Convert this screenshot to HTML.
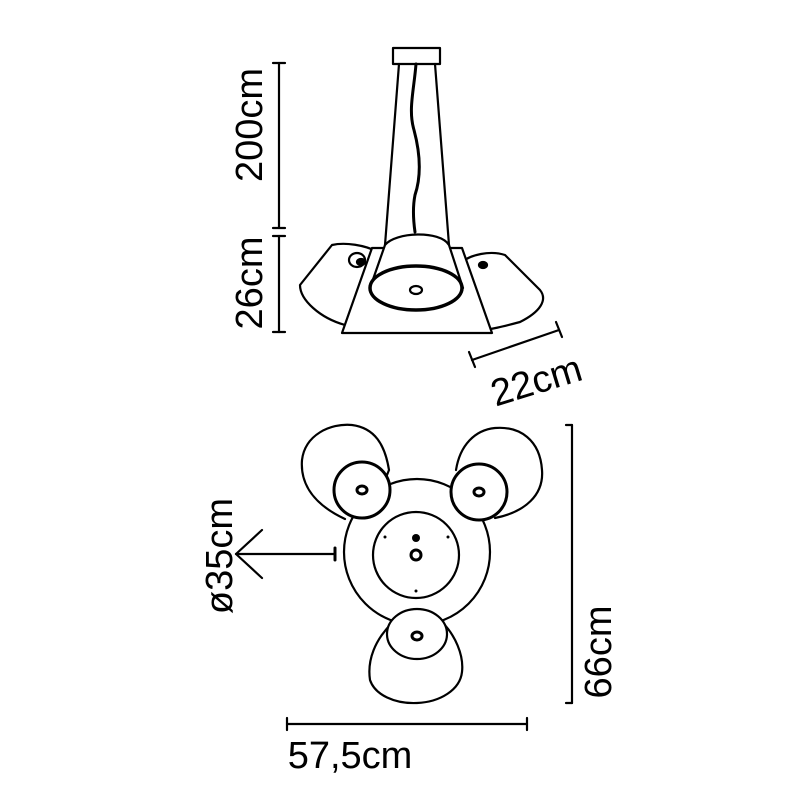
<!DOCTYPE html>
<html><head><style>
html,body{margin:0;padding:0;background:#fff;}
svg{display:block;}
text{font-family:"Liberation Sans",Arial,sans-serif;font-size:38px;fill:#000;}
</style></head><body>
<svg width="800" height="800" viewBox="0 0 800 800" xmlns="http://www.w3.org/2000/svg">
<g fill="none" stroke="#000" stroke-width="2.2" stroke-linejoin="round" stroke-linecap="round">
<!-- side view -->
<rect x="393" y="48" width="47" height="16"/>
<line x1="399" y1="64" x2="385" y2="245"/>
<line x1="435" y1="64" x2="449" y2="245"/>
<path d="M416 64 C414 90 408 110 414 130 C422 160 420 180 415 195 C412 210 414 225 415 232" stroke-width="3"/>
<!-- left shade -->
<path d="M378 252 C365 245 345 242 332 245 L300 285 C300 300 320 318 345 325 L372 252"/>
<ellipse cx="357" cy="260" rx="8" ry="7" fill="none"/>
<ellipse cx="361" cy="262" rx="4" ry="3" fill="#000"/>
<!-- right shade -->
<path d="M462 262 C470 255 490 250 505 255 L540 290 C548 300 540 312 520 322 C505 326 490 330 475 331"/>
<ellipse cx="483" cy="265" rx="4" ry="3" fill="#000"/>
<!-- trapezoid base -->
<path d="M372 248 L462 248 L492 333 L342 333 Z" fill="#fff"/>
<!-- center shade -->
<path d="M370 288 L385 245 C395 232 440 230 449 245 L463 288" fill="#fff"/>
<ellipse cx="416" cy="288" rx="46" ry="22" stroke-width="3.5" fill="#fff"/>
<ellipse cx="416" cy="290" rx="6" ry="4"/>
<!-- dims side -->
<line x1="279" y1="63" x2="279" y2="228"/>
<line x1="273" y1="63" x2="285" y2="63"/>
<line x1="273" y1="228" x2="285" y2="228"/>
<line x1="279" y1="236" x2="279" y2="332"/>
<line x1="273" y1="236" x2="285" y2="236"/>
<line x1="273" y1="332" x2="285" y2="332"/>
<line x1="472" y1="360" x2="559" y2="330"/>
<line x1="469" y1="352" x2="475" y2="367"/>
<line x1="556" y1="322" x2="562" y2="337"/>
<!-- top view lobes -->
<path d="M345 519 C315 505 300 485 302 460 C305 435 330 423 352 425 C375 428 385 445 389 470 L385 480"/>
<path d="M456 470 C460 445 475 430 495 428 C520 426 540 440 542 470 C544 495 525 512 495 518"/>
<path d="M392 623 C375 640 367 660 370 680 C375 695 395 704 417 703 C440 702 460 690 462 672 C464 655 455 635 442 622"/>
<circle cx="417" cy="552" r="73" fill="#fff"/>
<circle cx="362" cy="490" r="28" fill="#fff" stroke-width="3"/>
<ellipse cx="362" cy="490" rx="5" ry="4" stroke-width="3"/>
<circle cx="479" cy="492" r="28" fill="#fff" stroke-width="3"/>
<ellipse cx="479" cy="492" rx="5" ry="4" stroke-width="3"/>
<ellipse cx="417" cy="634" rx="30" ry="25" fill="#fff"/>
<ellipse cx="417" cy="636" rx="5" ry="4" stroke-width="3"/>
<circle cx="416" cy="555" r="43"/>
<circle cx="416" cy="555" r="5" stroke-width="3"/>
<!-- dims top -->
<line x1="572" y1="425" x2="572" y2="703"/>
<line x1="566" y1="425" x2="572" y2="425"/>
<line x1="566" y1="703" x2="572" y2="703"/>
<line x1="287" y1="724" x2="527" y2="724"/>
<line x1="287" y1="718" x2="287" y2="730"/>
<line x1="527" y1="718" x2="527" y2="730"/>
<line x1="236" y1="554" x2="335" y2="554"/>
<line x1="335" y1="548" x2="335" y2="560" stroke-width="3"/>
<polyline points="262,530 236,554 262,578"/>
</g>
<g fill="#000">
<circle cx="416" cy="538" r="4"/>
<circle cx="385" cy="537" r="1.5"/><circle cx="448" cy="537" r="1.5"/><circle cx="416" cy="591" r="1.5"/>
</g>
<text transform="translate(262,125) rotate(-90)" text-anchor="middle">200cm</text>
<text transform="translate(262,283) rotate(-90)" text-anchor="middle">26cm</text>
<text transform="translate(540,393) rotate(-17)" text-anchor="middle">22cm</text>
<text transform="translate(232,556) rotate(-90)" text-anchor="middle">ø35cm</text>
<text transform="translate(611,652) rotate(-90)" text-anchor="middle">66cm</text>
<text x="350" y="768" text-anchor="middle">57,5cm</text>
</svg>
</body></html>
